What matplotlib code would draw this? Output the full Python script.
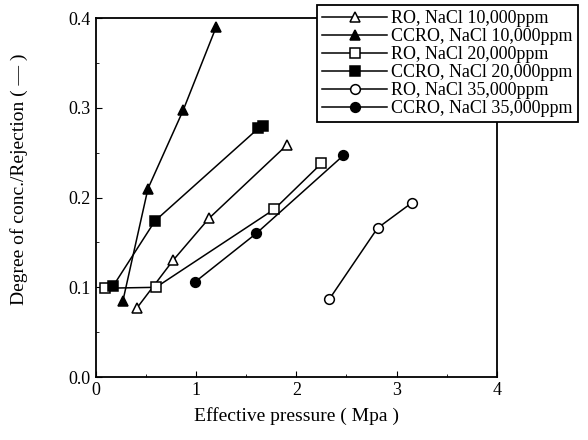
import matplotlib
matplotlib.use("Agg")
import matplotlib.pyplot as plt

plt.rcParams['font.family'] = ['Liberation Serif', 'DejaVu Serif']

# ====== Data ======
ro10_x = [0.41, 0.77, 1.13, 1.91]
ro10_y = [0.077, 0.130, 0.177, 0.259]

ccro10_x = [0.27, 0.52, 0.87, 1.20]
ccro10_y = [0.085, 0.210, 0.297, 0.390]

ro20_x = [0.09, 0.60, 1.78, 2.25]
ro20_y = [0.099, 0.100, 0.187, 0.238]

ccro20_x = [0.17, 0.59, 1.62, 1.67]
ccro20_y = [0.101, 0.174, 0.277, 0.280]

ro35_x = [2.33, 2.81, 3.15]
ro35_y = [0.087, 0.166, 0.194]

ccro35_x = [0.99, 1.60, 2.47]
ccro35_y = [0.106, 0.160, 0.247]

labels = ['RO, NaCl 10,000ppm', 'CCRO, NaCl 10,000ppm',
          'RO, NaCl 20,000ppm', 'CCRO, NaCl 20,000ppm',
          'RO, NaCl 35,000ppm', 'CCRO, NaCl 35,000ppm']

series = [
    (ro10_x, ro10_y, '^', 'white'),
    (ccro10_x, ccro10_y, '^', 'black'),
    (ro20_x, ro20_y, 's', 'white'),
    (ccro20_x, ccro20_y, 's', 'black'),
    (ro35_x, ro35_y, 'o', 'white'),
    (ccro35_x, ccro35_y, 'o', 'black'),
]

fig = plt.figure(figsize=(5.88, 4.4), dpi=100)
ax = fig.add_axes([0.163, 0.143, 0.682, 0.816])

for (x, y, m, fc), lab in zip(series, labels):
    ax.plot(x, y, color='black', linewidth=1.1, marker=m, markersize=7,
            markerfacecolor=fc, markeredgecolor='black', markeredgewidth=1.1,
            label=lab)

ax.set_xlim(0, 4)
ax.set_ylim(0, 0.4)
ax.set_xticks([0, 1, 2, 3, 4])
ax.set_xticks([0.5, 1.5, 2.5, 3.5], minor=True)
ax.set_yticks([0.0, 0.1, 0.2, 0.3, 0.4])
ax.set_yticklabels(['0.0', '0.1', '0.2', '0.3', '0.4'])
ax.set_yticks([0.05, 0.15, 0.25, 0.35], minor=True)
ax.tick_params(which='both', direction='in', labelsize=13)
ax.tick_params(which='major', length=4)
ax.tick_params(which='minor', length=2)
for s in ax.spines.values():
    s.set_linewidth(1.3)

ax.set_xlabel('Effective pressure ( Mpa )', fontsize=14, labelpad=6)
ax.set_ylabel('Degree of conc./Rejection ( \u2014 )', fontsize=14)
ax.yaxis.set_label_coords(-0.17, 0.55)

leg = ax.legend(loc='upper right', bbox_to_anchor=(578 / 588, 1 - 5 / 440),
                bbox_transform=fig.transFigure, frameon=True, fancybox=False,
                edgecolor='black', fontsize=13, handlelength=3.6,
                handletextpad=0.2, labelspacing=0.05, borderpad=0.3,
                borderaxespad=0)
leg.get_frame().set_linewidth(1.3)
leg.get_frame().set_alpha(1)

fig.savefig('out.png', dpi=100)
